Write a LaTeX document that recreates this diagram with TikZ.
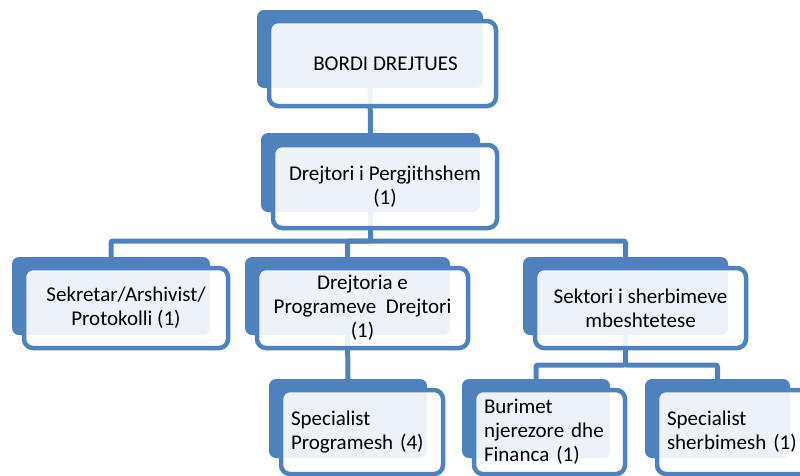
\documentclass[tikz,border=0pt]{standalone}
\usepackage{fontspec}
\setmainfont{Carlito}
\usetikzlibrary{calc,positioning}
\definecolor{boxblue}{HTML}{4F81BD}

\tikzset{
  back/.style={fill=boxblue, rounded corners=7pt, inner sep=0pt, outer sep=0pt},
  front/.style={draw=boxblue, line width=4.5pt, fill=white, fill opacity=0.9, text opacity=1,
    rounded corners=9pt, inner sep=0pt, outer sep=0pt, anchor=north west, align=center,
    font=\fontsize{21}{24}\selectfont},
  leaf/.style={front, align=left, inner xsep=10pt},
  link/.style={draw=boxblue, line width=5pt, rounded corners=2pt}
}

\begin{document}
\begin{tikzpicture}[x=1pt,y=-1pt]
\useasboundingbox (0,0) rectangle (800,475);
% blue back plates
\node[back, minimum width=226pt, minimum height=78pt] (bord) at (370,49) {};
\node[back, minimum width=219pt, minimum height=79pt] (dir) at (370.5,172.5) {};
\node[back, minimum width=198pt, minimum height=78pt] (sek) at (111,296) {};
\node[back, minimum width=205pt, minimum height=78pt] (prog) at (347.5,296) {};
\node[back, minimum width=205pt, minimum height=78pt] (mb) at (625.5,296) {};
\node[back, minimum width=158pt, minimum height=79pt] (spprog) at (348,418.5) {};
\node[back, minimum width=148pt, minimum height=79pt] (bur) at (536,418.5) {};
\node[back, minimum width=145pt, minimum height=79pt] (spsh) at (717.5,418.5) {};

% connectors
\coordinate (bar1) at (370.5,241);
\coordinate (bar2) at (625.5,365);
\draw[link] (bord.south) -- (dir.north);
\draw[link] (dir.south) -- (bar1) -| (sek.north);
\draw[link] (bar1) -| (prog.north);
\draw[link] (bar1) -| (mb.north);
\draw[link] (prog.south) -- (spprog.north);
\draw[link] (mb.south) -- (bar2) -| (bur.north);
\draw[link] (bar2) -| (spsh.north);

% front frames with text
\node[front, minimum width=227pt, minimum height=85pt] (bordT) at (269,21) {\hspace*{6pt}BORDI DREJTUES};
\node[front, minimum width=224pt, minimum height=83pt] (dirT) at (273,145) {Drejtori i Pergjithshem\\(1)};
\node[front, minimum width=204pt, minimum height=80pt] (sekT) at (24,268) {Sekretar/Arshivist/\\Protokolli (1)};
\node[front, minimum width=211pt, minimum height=80pt] (progT) at (257,268) {Drejtoria e\\Programeve~ Drejtori\\(1)};
\node[front, minimum width=211pt, minimum height=80pt] (mbT) at (535,268) {Sektori i sherbimeve\\mbeshtetese};
\node[leaf, text width=142pt, minimum height=84pt] (spprogT) at (281,390) {Specialist\\Programesh (4)};
\node[leaf, text width=131pt, minimum height=84pt] (burT) at (474,390) {Burimet\\njerezore dhe\\Financa (1)};
\node[leaf, text width=135pt, minimum height=84pt] (spshT) at (657,390) {Specialist\\sherbimesh (1)};
\end{tikzpicture}
\end{document}
